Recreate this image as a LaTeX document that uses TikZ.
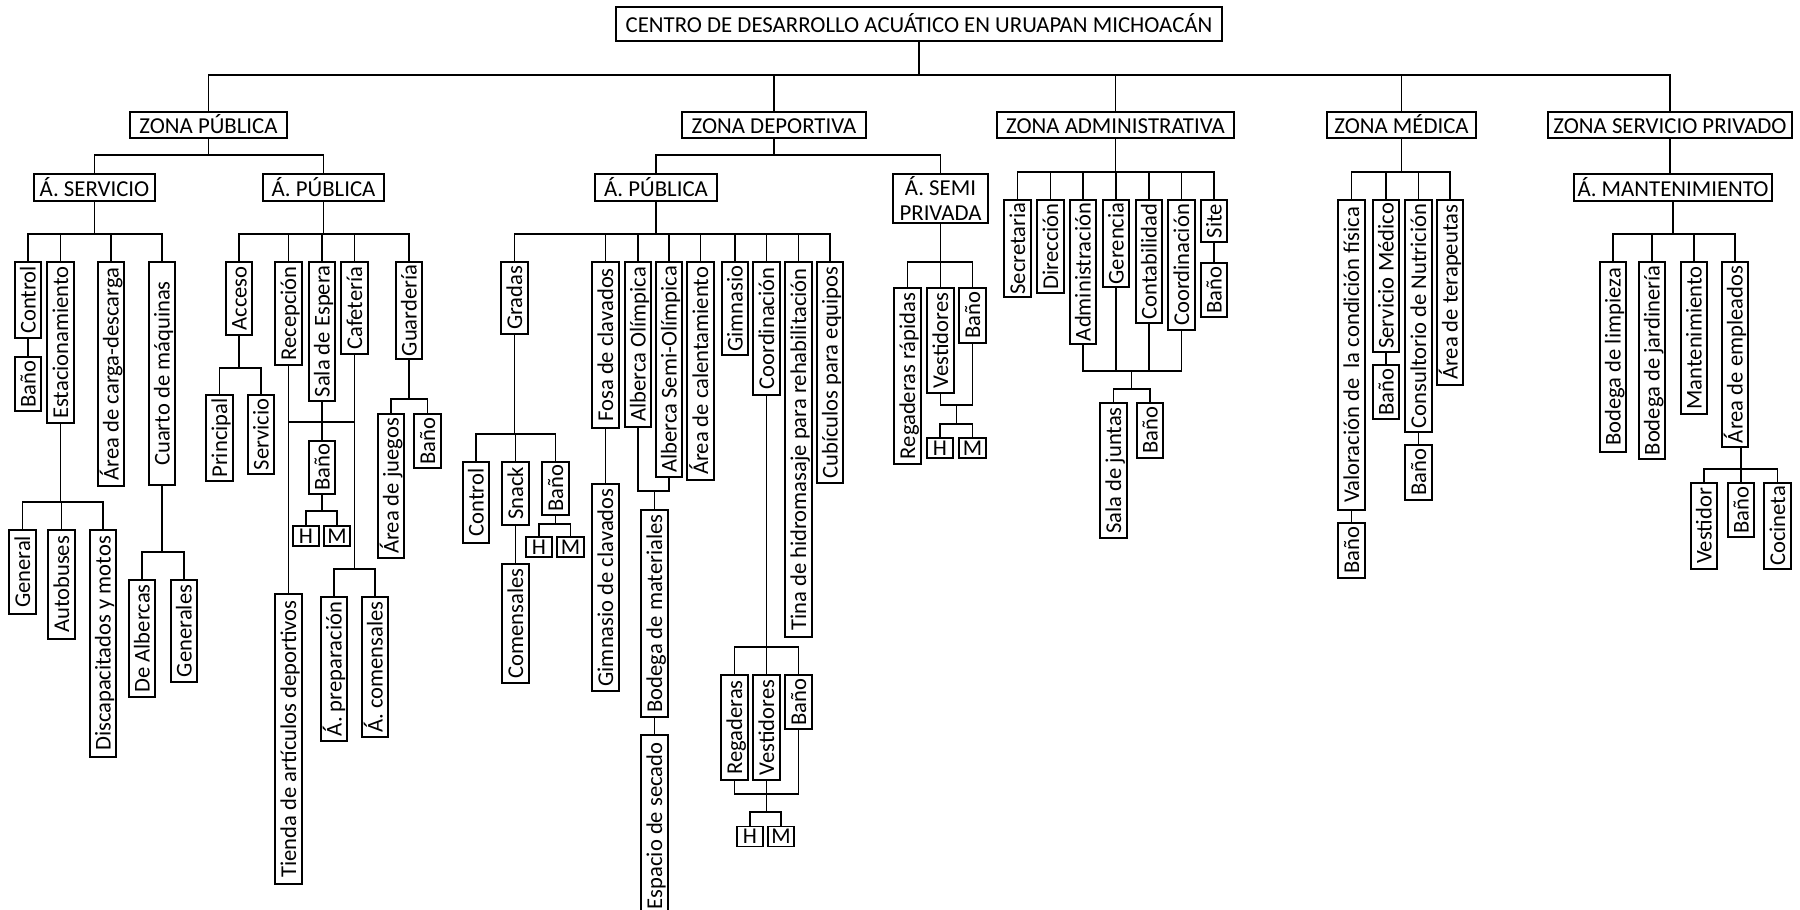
\documentclass[tikz,border=0pt]{standalone}
\usepackage{fontspec}
\setmainfont{Carlito}
\usetikzlibrary{calc}

\tikzset{
  wire/.style={line width=0.65pt},
  hbx/.style={draw, line width=0.95pt, inner sep=0pt, text height=8.7pt, text depth=0pt,
              font=\fontsize{11.4}{13.5}\selectfont},
  vbx/.style={draw, line width=0.95pt, rotate=90, inner xsep=0.4pt, inner ysep=0pt,
              minimum height=13.25pt, text height=9.45pt, text depth=1.85pt,
              font=\fontsize{11.3}{13}\selectfont},
  sbx/.style={draw, line width=0.95pt, inner sep=0pt, minimum width=13.25pt,
              minimum height=10pt, font=\fontsize{11.3}{13}\selectfont},
}

% horizontal box: name, left, right, top, bottom, text
\newcommand\hnode[6]{\node[hbx, minimum width={(#3-#2)*0.5pt}, minimum height={(#5-#4)*0.5pt}] (#1) at ({(#2+#3)/2},{(#4+#5)/2}) {#6};}
% vertical box: name, centre x, top, bottom, text
\newcommand\vnode[5]{\node[vbx, minimum width={(#4-#3)*0.5pt}, anchor=east] (#1) at (#2,#3) {#5};}
% small box: name, x, y, text
\newcommand\snode[4]{\node[sbx] (#1) at (#2,#3) {#4};}
% elbow link: parent anchor, bus y, child anchor
\newcommand\lnk[3]{\draw[wire] (#1) -- (#1 |- 0,#2) -| (#3);}

\begin{document}
\begin{tikzpicture}[x=0.5pt, y=-0.5pt]
\fill[white] (0,0) rectangle (1800,910);
\useasboundingbox (0,0) rectangle (1800,910);

% ---------- top levels ----------
\hnode{title}{616}{1222}{7}{41}{CENTRO DE DESARROLLO ACUÁTICO EN URUAPAN MICHOACÁN}
\hnode{zp}{130}{287}{112}{138}{ZONA PÚBLICA}
\hnode{zd}{682}{866}{112}{138}{ZONA DEPORTIVA}
\hnode{za}{997}{1234}{112}{138}{ZONA ADMINISTRATIVA}
\hnode{zm}{1327}{1476}{112}{138}{ZONA MÉDICA}
\hnode{zs}{1548}{1792}{112}{138}{ZONA SERVICIO PRIVADO}
\foreach \z in {zp,zd,za,zm,zs} {\lnk{title.south}{75}{\z.north}}

\hnode{as}{34}{155}{174}{201}{Á. SERVICIO}
\hnode{ap}{263}{384}{174}{201}{Á. PÚBLICA}
\hnode{apd}{595}{717}{174}{201}{Á. PÚBLICA}
\node[draw, line width=0.95pt, inner sep=0pt, minimum width=47.5pt, minimum height=24.5pt,
      align=center, font=\fontsize{11.4}{12.5}\selectfont] (asp) at (940.5,198.5) {Á. SEMI\\PRIVADA};
\hnode{am}{1574}{1772}{174}{201}{Á. MANTENIMIENTO}
\foreach \c in {as,ap} {\lnk{zp.south}{155}{\c.north}}
\foreach \c in {apd,asp} {\lnk{zd.south}{155}{\c.north}}
\draw[wire] (zs.south) -- (zs.south |- am.north);

% ---------- Zona publica: area de servicio ----------
\vnode{ctl1}{28}{261}{337}{Control}
\vnode{bn1}{28}{356}{410}{Baño}
\vnode{est}{60.5}{261}{422}{Estacionamiento}
\vnode{gen}{22.5}{529}{613}{General}
\vnode{aut}{61.5}{529}{638}{Autobuses}
\vnode{dis}{103}{529}{756}{Discapacitados y motos}
\vnode{car}{111}{261}{485}{Área de carga-descarga}
\vnode{cua}{162}{261}{484}{Cuarto de máquinas}
\vnode{alb}{142}{579}{696}{De Albercas}
\vnode{gnl}{184}{579}{681}{Generales}
\foreach \c in {ctl1,est,car,cua} {\lnk{as.south}{234}{\c.east}}
\draw[wire] (ctl1.west) -- (bn1.east);
\foreach \c in {gen,aut,dis} {\lnk{est.west}{502}{\c.east}}
\foreach \c in {alb,gnl} {\lnk{cua.west}{552}{\c.east}}

% ---------- Zona publica: area publica ----------
\vnode{acc}{239}{261}{334}{Acceso}
\vnode{pri}{219.5}{394}{480}{Principal}
\vnode{ser}{261}{394}{473}{Servicio}
\vnode{rec}{288.5}{261}{364}{Recepción}
\vnode{sal}{322}{261}{400}{Sala de Espera}
\vnode{caf}{354.5}{261}{353}{Cafetería}
\vnode{gua}{409}{261}{358}{Guardería}
\vnode{bn2}{322}{440}{493}{Baño}
\snode{h1}{306}{536}{H}
\snode{m1}{337}{536}{M}
\vnode{tie}{288.5}{593}{883}{Tienda de artículos deportivos}
\vnode{pre}{334}{596}{740}{Á. preparación}
\vnode{com}{375}{596}{736}{Á. comensales}
\vnode{jue}{391}{413}{557}{Área de juegos}
\vnode{bn3}{427.5}{413}{467}{Baño}
\foreach \c in {acc,rec,sal,caf,gua} {\lnk{ap.south}{234}{\c.east}}
\foreach \c in {pri,ser} {\lnk{acc.west}{368}{\c.east}}
\draw[wire] (rec.west) -- (tie.east);
\draw[wire] (rec.west |- 0,422) -- (caf.west |- 0,422);
\draw[wire] (sal.west) -- (bn2.east);
\foreach \c in {pre,com} {\lnk{caf.west}{569}{\c.east}}
\foreach \c in {h1,m1} {\lnk{bn2.west}{511}{\c.north}}
\foreach \c in {jue,bn3} {\lnk{gua.west}{399}{\c.east}}

% ---------- Zona deportiva: area publica ----------
\vnode{gra}{514.5}{261}{333}{Gradas}
\vnode{ctl2}{476}{461}{542}{Control}
\vnode{sna}{515.5}{461}{524}{Snack}
\vnode{cms}{515.5}{563}{682}{Comensales}
\vnode{bn4}{555.5}{461}{514}{Baño}
\snode{h2}{539}{547}{H}
\snode{m2}{570.5}{547}{M}
\vnode{fos}{605.5}{261}{427}{Fosa de clavados}
\vnode{gcl}{605.5}{483}{690}{Gimnasio de clavados}
\vnode{aol}{638}{261}{426}{Alberca Olímpica}
\vnode{aso}{669}{261}{476}{Alberca Semi-Olímpica}
\vnode{bod}{654.5}{509}{716}{Bodega de materiales}
\vnode{esp}{654.5}{734}{916}{Espacio de secado}
\vnode{cal}{700.5}{261}{479}{Área de calentamiento}
\vnode{gim}{735}{261}{354}{Gimnasio}
\vnode{coo}{766.5}{261}{394}{Coordinación}
\vnode{reg}{734.5}{674}{779}{Regaderas}
\vnode{ves}{766.5}{674}{779}{Vestidores}
\vnode{bn5}{798.5}{674}{728}{Baño}
\snode{h3}{750}{836.5}{H}
\snode{m3}{781}{836.5}{M}
\vnode{tin}{798.5}{261}{636}{Tina de hidromasaje para rehabilitación}
\vnode{cub}{830}{261}{482}{Cubículos para equipos}
\foreach \c in {gra,fos,aol,aso,cal,gim,coo,tin,cub} {\lnk{apd.south}{234}{\c.east}}
\foreach \c in {ctl2,sna,bn4} {\lnk{gra.west}{434}{\c.east}}
\draw[wire] (sna.west) -- (cms.east);
\foreach \c in {h2,m2} {\lnk{bn4.west}{524}{\c.north}}
\draw[wire] (fos.west) -- (gcl.east);
\draw[wire] (aol.west) -- (aol.west |- 0,491) -| (aso.west);
\draw[wire] (bod.east |- 0,491) -- (bod.east);
\draw[wire] (bod.west) -- (esp.east);
\foreach \c in {reg,ves,bn5} {\lnk{coo.west}{647}{\c.east}}
\draw[wire] (reg.west) -- (reg.west |- 0,794) -| (bn5.west);
\draw[wire] (ves.west) -- (ves.west |- 0,812);
\draw[wire] (h3.north) -- (h3.north |- 0,812) -| (m3.north);

% ---------- Zona deportiva: area semi privada ----------
\vnode{rr}{907.5}{287}{463}{Regaderas rápidas}
\vnode{ves2}{940.5}{287}{392}{Vestidores}
\vnode{bn6}{972.5}{287}{342}{Baño}
\snode{h4}{940}{448}{H}
\snode{m4}{972.5}{448}{M}
\foreach \c in {rr,ves2,bn6} {\lnk{asp.south}{262}{\c.east}}
\draw[wire] (ves2.west) -- (ves2.west |- 0,405) -| (bn6.west);
\coordinate (mA) at ($(ves2.west)!0.5!(bn6.west)$);
\draw[wire] (mA |- 0,405) -- (mA |- 0,424);
\draw[wire] (h4.north) -- (h4.north |- 0,424) -| (m4.north);

% ---------- Zona administrativa ----------
\vnode{sec}{1017.5}{199}{296}{Secretaria}
\vnode{dir}{1050.5}{199}{292}{Dirección}
\vnode{adm}{1083}{199}{343}{Administración}
\vnode{ger}{1116}{199}{286}{Gerencia}
\vnode{con}{1149}{199}{322}{Contabilidad}
\vnode{coo2}{1181.5}{199}{329}{Coordinación}
\vnode{sit}{1214}{199}{241}{Site}
\vnode{bn7}{1214}{262}{316}{Baño}
\vnode{sj}{1113.5}{402}{537}{Sala de juntas}
\vnode{bn8}{1150}{402}{457}{Baño}
\foreach \c in {sec,dir,adm,ger,con,coo2,sit} {\lnk{za.south}{172}{\c.east}}
\draw[wire] (sit.west) -- (bn7.east);
\draw[wire] (adm.west) -- (adm.west |- 0,371) -| (coo2.west);
\draw[wire] (ger.west) -- (ger.west |- 0,371);
\draw[wire] (con.west) -- (con.west |- 0,371);
\coordinate (mB) at ($(sj.east)!0.5!(bn8.east)$);
\draw[wire] (mB |- 0,371) -- (mB |- 0,389);
\draw[wire] (sj.east) -- (sj.east |- 0,389) -| (bn8.east);

% ---------- Zona medica ----------
\vnode{val}{1351.5}{199}{509}{Valoración de~ la condición física}
\vnode{bn9}{1351.5}{522}{577}{Baño}
\vnode{smd}{1386}{199}{351}{Servicio Médico}
\vnode{bn10}{1386}{364}{418}{Baño}
\vnode{cns}{1418.5}{199}{431}{Consultorio de Nutrición}
\vnode{bn11}{1418.5}{444}{499}{Baño}
\vnode{ter}{1450}{199}{384}{Área de terapeutas}
\foreach \c in {val,smd,cns,ter} {\lnk{zm.south}{172}{\c.east}}
\draw[wire] (val.west) -- (bn9.east);
\draw[wire] (smd.west) -- (bn10.east);
\draw[wire] (cns.west) -- (bn11.east);

% ---------- Zona servicio privado ----------
\vnode{bl}{1613}{261}{451}{Bodega de limpieza}
\vnode{bj}{1652}{261}{458}{Bodega de jardinería}
\vnode{man}{1694}{261}{413}{Mantenimiento}
\vnode{emp}{1735}{261}{446}{Área de empleados}
\vnode{vsd}{1704}{482}{568}{Vestidor}
\vnode{bn12}{1741}{482}{536}{Baño}
\vnode{coc}{1777.5}{482}{568}{Cocineta}
\foreach \c in {bl,bj,man,emp} {\lnk{am.south}{234}{\c.east}}
\draw[wire] (emp.west -| bn12.east) -- (bn12.east);
\draw[wire] (vsd.east) -- (vsd.east |- 0,469) -| (coc.east);
\end{tikzpicture}
\end{document}
